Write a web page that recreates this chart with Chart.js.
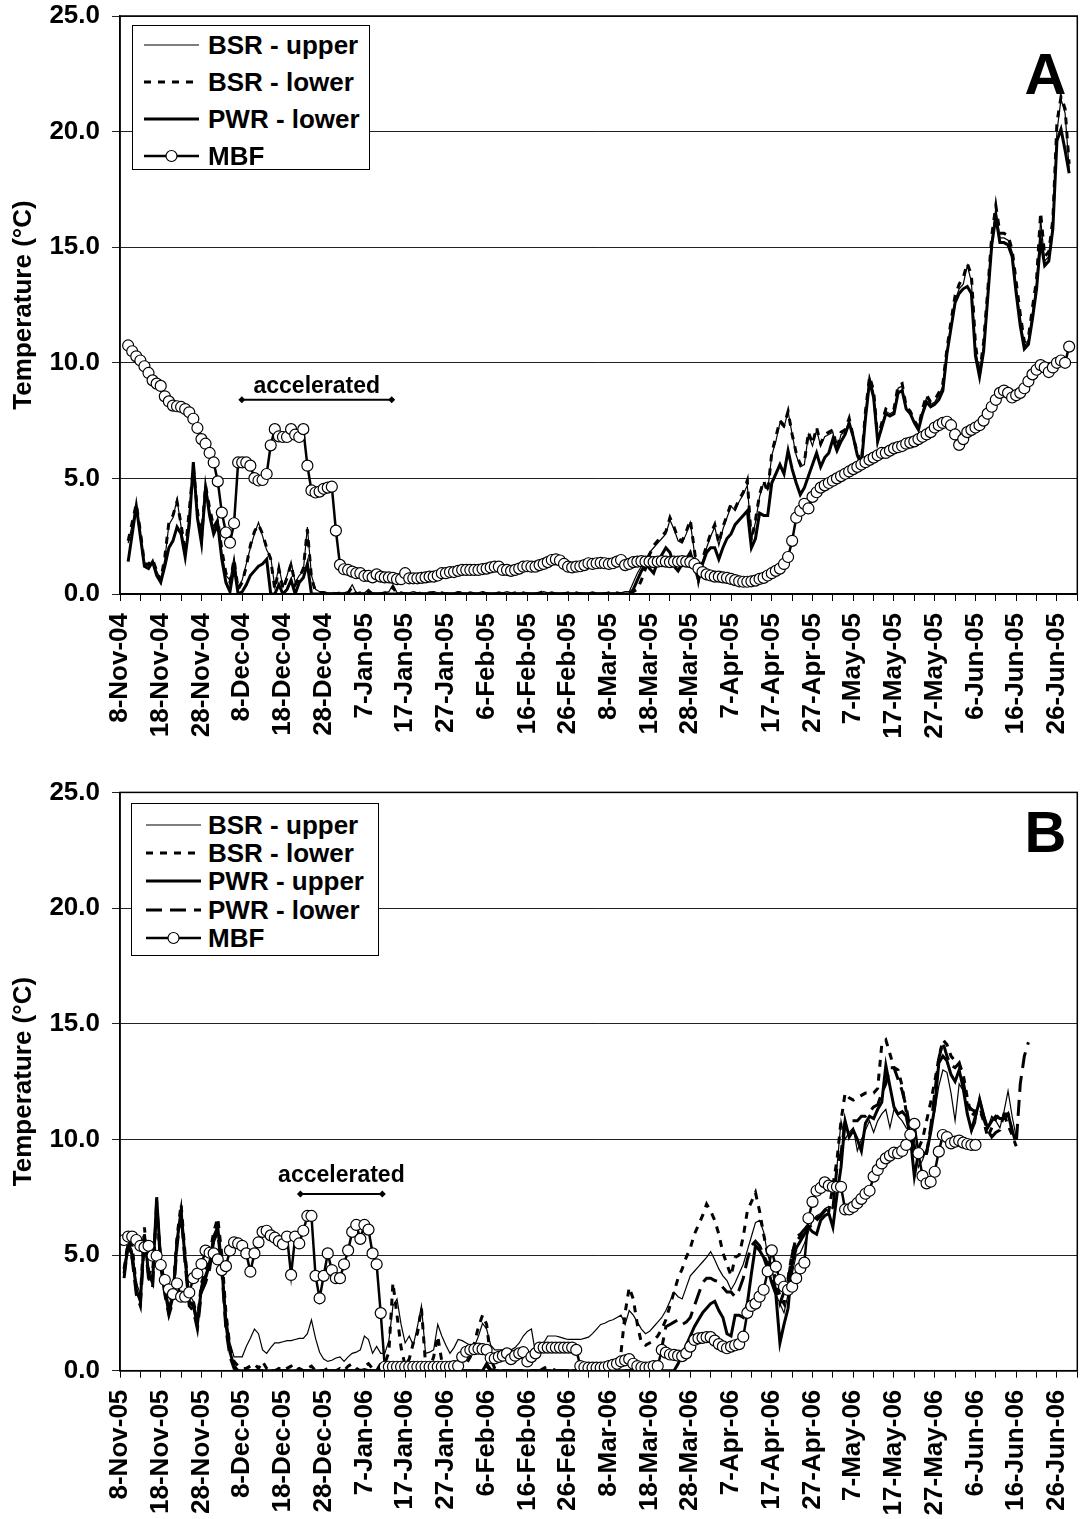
<!DOCTYPE html>
<html>
<head>
<meta charset="utf-8">
<title>Temperature</title>
<script src="https://cdn.jsdelivr.net/npm/chart.js@4.4.1/dist/chart.umd.min.js"></script>
<style>
  body { margin: 0; background: #fff; }
  #page { position: relative; width: 1084px; height: 1519px; }
  .panel { position: absolute; left: 0; width: 1084px; }
  .legend { position: absolute; border: 1px solid #000; background: #fff; box-sizing: border-box; }
  .legend .row { position: absolute; height: 28px; display: flex; align-items: center;
    font: bold 26px 'Liberation Sans', Arial, sans-serif; line-height: 28px; white-space: nowrap; color: #000; }
</style>
</head>
<body>
<div id="page">
  <div class="panel" style="top:0;height:760px"><canvas id="chartA"></canvas></div>
  <div class="panel" style="top:760px;height:759px"><canvas id="chartB"></canvas></div>
  <div class="legend" id="legendA" style="left:132px;top:25px;width:238px;height:145px"></div>
  <div class="legend" id="legendB" style="left:131px;top:803px;width:248px;height:153px"></div>
</div>
<script>
// tick labels, one every 10 days (day 0 = first label)
const tickLabelsA = ["8-Nov-04", "18-Nov-04", "28-Nov-04", "8-Dec-04", "18-Dec-04", "28-Dec-04",
  "7-Jan-05", "17-Jan-05", "27-Jan-05", "6-Feb-05", "16-Feb-05", "26-Feb-05", "8-Mar-05",
  "18-Mar-05", "28-Mar-05", "7-Apr-05", "17-Apr-05", "27-Apr-05", "7-May-05", "17-May-05",
  "27-May-05", "6-Jun-05", "16-Jun-05", "26-Jun-05"];
const tickLabelsB = ["8-Nov-05", "18-Nov-05", "28-Nov-05", "8-Dec-05", "18-Dec-05", "28-Dec-05",
  "7-Jan-06", "17-Jan-06", "27-Jan-06", "6-Feb-06", "16-Feb-06", "26-Feb-06", "8-Mar-06",
  "18-Mar-06", "28-Mar-06", "7-Apr-06", "17-Apr-06", "27-Apr-06", "7-May-06", "17-May-06",
  "27-May-06", "6-Jun-06", "16-Jun-06", "26-Jun-06"];

// ---- panel A, daily values from 8-Nov-04 (index = day) ----
const bsrUpA = [null, null, 2.2, 3.0, 3.9, 2.6, 1.3, 1.2, 1.4, 1.0,
  0.6, 1.5, 3.0, 3.3, 4.1, 2.9, 1.7, 3.5, 5.6, 3.5,
  2.3, 4.8, 3.6, 2.8, 3.3, 1.8, 0.8, 0.6, 1.6, 0.3,
  0.6, 1.3, 2.0, 2.6, 3.1, 2.5, 1.9, 1.6, 0.3, 1.2,
  0.3, 0.8, 1.4, 0.5, 0.8, 1.0, 2.9, 0.8, 0.2, 0.1,
  0.1, 0.05, 0.05, 0.05, 0.05, 0.05, 0.1, 0.4, 0.05, 0.05,
  0.05, 0.2, 0.05, 0.05, 0.05, 0.05, 0.1, 0.4, 0.05, 0.05,
  0.05, 0.05, 0.1, 0.05, 0.05, 0.05, 0.05, 0.1, 0.05, 0.05,
  0.05, 0.05, 0.05, 0.1, 0.05, 0.05, 0.05, 0.05, 0.05, 0.1,
  0.05, 0.05, 0.05, 0.05, 0.05, 0.1, 0.05, 0.05, 0.05, 0.05,
  0.05, 0.05, 0.05, 0.05, 0.1, 0.05, 0.05, 0.05, 0.05, 0.05,
  0.05, 0.05, 0.05, 0.05, 0.05, 0.05, 0.05, 0.05, 0.05, 0.05,
  0.05, 0.05, 0.05, 0.05, 0.1, 0.1, 0.5, 0.9, 1.2, 1.5,
  1.8, 2.0, 2.2, 2.4, 2.6, 3.2, 2.8, 2.3, 2.2, 2.6,
  3.1, 1.8, 0.6, 1.4, 2.0, 2.5, 2.9, 2.1, 2.8, 3.3,
  3.8, 3.6, 4.0, 4.3, 4.7, 2.4, 3.1, 4.2, 4.8, 4.5,
  6.0, 6.6, 7.4, 7.2, 7.9, 6.9, 6.0, 5.5, 5.6, 6.9,
  6.4, 7.1, 6.4, 6.8, 6.9, 7.0, 6.2, 6.9, 7.0, 7.5,
  6.7, 6.0, 5.6, 7.8, 9.4, 8.7, 6.6, 7.3, 7.9, 7.8,
  7.9, 8.9, 9.0, 8.0, 7.8, 7.4, 7.1, 7.9, 8.5, 8.2,
  8.3, 8.6, 9.0, 10.5, 11.6, 12.7, 13.2, 13.4, 14.2, 13.5,
  10.6, 9.6, 10.7, 13.0, 15.3, 16.7, 15.4, 15.4, 15.3, 14.8,
  13.3, 12.0, 10.7, 11.0, 12.2, 13.4, 16.2, 14.4, 14.6, 16.0,
  20.0, 21.4, 20.8, 18.4, null, null];

const bsrLowA = [null, null, 2.3, 3.1, 3.9, 2.7, 1.3, 1.3, 1.5, 1.0,
  0.6, 1.6, 3.1, 3.4, 4.0, 3.0, 1.8, 3.6, 5.5, 3.6,
  2.4, 4.7, 3.7, 2.9, 3.2, 1.9, 0.9, 0.5, 1.5, 0.2,
  0.5, 1.2, 2.1, 2.7, 3.0, 2.6, 2.0, 1.5, 0.2, 1.1,
  0.2, 0.7, 1.3, 0.4, 0.7, 1.1, 2.8, 0.7, 0.1, 0.05,
  0.05, 0.0, 0.05, 0.0, 0.05, 0.0, 0.05, 0.3, 0.0, 0.05,
  0.0, 0.1, 0.0, 0.05, 0.0, 0.05, 0.05, 0.3, 0.0, 0.05,
  0.0, 0.05, 0.05, 0.0, 0.05, 0.0, 0.05, 0.05, 0.0, 0.05,
  0.0, 0.05, 0.0, 0.05, 0.05, 0.0, 0.05, 0.0, 0.05, 0.05,
  0.0, 0.05, 0.0, 0.05, 0.0, 0.05, 0.0, 0.05, 0.0, 0.05,
  0.0, 0.05, 0.0, 0.05, 0.1, 0.0, 0.05, 0.0, 0.05, 0.0,
  0.05, 0.0, 0.05, 0.0, 0.05, 0.0, 0.05, 0.0, 0.05, 0.0,
  0.05, 0.0, 0.05, 0.0, 0.05, 0.05, 0.1, 0.2, 0.6, 1.1,
  1.7, 2.1, 2.3, 2.5, 2.7, 3.3, 2.9, 2.4, 2.3, 2.7,
  3.2, 1.9, 0.6, 1.5, 2.1, 2.6, 3.0, 2.2, 2.9, 3.4,
  3.9, 3.7, 4.1, 4.4, 4.9, 2.3, 3.2, 4.3, 4.9, 4.4,
  6.1, 6.8, 7.5, 7.3, 7.9, 6.9, 6.1, 5.6, 5.7, 7.0,
  6.5, 7.2, 6.5, 6.9, 7.0, 7.1, 6.3, 7.0, 7.1, 7.6,
  6.8, 6.1, 5.7, 7.9, 9.4, 8.8, 6.7, 7.4, 8.0, 7.9,
  8.0, 9.0, 9.1, 8.1, 7.9, 7.5, 7.2, 8.0, 8.6, 8.3,
  8.4, 8.7, 9.1, 10.6, 11.8, 12.9, 13.4, 13.7, 14.3, 13.8,
  10.8, 9.5, 10.9, 13.1, 15.5, 16.8, 15.6, 15.6, 15.5, 14.9,
  13.5, 12.1, 10.9, 11.1, 12.4, 13.6, 16.5, 14.6, 14.8, 16.2,
  20.4, 21.5, 21.0, 18.6, null, null];

const pwrLowA = [null, null, 1.4, 2.6, 3.8, 2.5, 1.2, 1.1, 1.4, 0.8,
  0.5, 1.2, 2.0, 2.3, 2.9, 2.6, 1.6, 3.0, 5.7, 3.3,
  2.2, 4.6, 3.4, 2.6, 3.0, 1.5, 0.5, 0.1, 1.2, 0.0,
  0.1, 0.4, 0.8, 1.0, 1.2, 1.3, 1.5, 0.0, 0.0, 0.4,
  0.0, 0.2, 0.6, 0.0, 0.5, 0.7, 1.3, 0.0, 0.0, 0.0,
  0, 0, 0, 0, 0, 0, 0, 0, 0, 0,
  0, 0, 0, 0, 0, 0, 0, 0, 0, 0,
  0, 0, 0, 0, 0, 0, 0, 0, 0, 0,
  0, 0, 0, 0, 0, 0, 0, 0, 0, 0,
  0, 0, 0, 0, 0, 0, 0, 0, 0, 0,
  0, 0, 0, 0, 0, 0, 0, 0, 0, 0,
  0, 0, 0, 0, 0, 0, 0, 0, 0, 0,
  0, 0, 0, 0, 0, 0.0, 0.2, 0.6, 1.0, 1.3,
  1.1, 0.9, 1.4, 1.7, 2.0, 1.8, 1.2, 1.0, 1.3, 1.5,
  1.8, 1.2, 0.6, 1.3, 1.8, 2.0, 2.0, 1.5, 2.0, 2.4,
  2.6, 3.0, 3.2, 3.4, 3.6, 2.0, 2.4, 3.5, 3.4, 3.4,
  4.8, 5.2, 5.6, 5.2, 6.2, 5.4, 4.8, 4.3, 4.6, 5.1,
  5.6, 6.1, 5.5, 5.9, 6.1, 6.7, 6.2, 6.6, 6.9, 7.4,
  6.8, 6.0, 5.6, 7.6, 9.2, 8.5, 6.6, 7.2, 7.8, 7.7,
  7.8, 8.7, 8.8, 8.0, 7.8, 7.4, 7.1, 7.8, 8.3, 8.1,
  8.2, 8.4, 8.8, 10.4, 11.5, 12.6, 13.0, 13.2, 13.3, 13.0,
  10.3, 9.4, 10.5, 12.8, 15.1, 16.3, 15.2, 15.2, 15.1, 14.6,
  13.0, 11.6, 10.6, 10.8, 11.9, 13.2, 15.3, 14.2, 14.4, 15.8,
  19.6, 20.1, 19.2, 18.2, null, null];

const mbfA = [null, null, 10.75, 10.5, 10.28, 10.1, 9.85, 9.56, 9.24, 9.1,
  9.0, 8.55, 8.33, 8.15, 8.12, 8.09, 8.0, 7.86, 7.58, 7.18,
  6.7, 6.5, 6.1, 5.69, 4.87, 3.52, 2.66, 2.22, 3.06, 5.69,
  5.69, 5.69, 5.55, 5.01, 4.91, 4.93, 5.19, 6.43, 7.13, 6.82,
  6.79, 6.79, 7.13, 6.89, 6.79, 7.13, 5.55, 4.48, 4.39, 4.43,
  4.55, 4.6, 4.64, 2.74, 1.26, 1.07, 1.04, 0.97, 0.9, 0.9,
  0.78, 0.78, 0.72, 0.85, 0.75, 0.72, 0.72, 0.7, 0.64, 0.64,
  0.9, 0.68, 0.68, 0.68, 0.7, 0.72, 0.75, 0.75, 0.8, 0.9,
  0.9, 0.95, 0.95, 1.0, 1.04, 1.04, 1.04, 1.04, 1.04, 1.08,
  1.1, 1.15, 1.18, 1.18, 1.04, 1.04, 1.0, 1.04, 1.1, 1.18,
  1.2, 1.18, 1.18, 1.25, 1.3, 1.38, 1.47, 1.5, 1.45, 1.3,
  1.18, 1.15, 1.18, 1.2, 1.25, 1.33, 1.3, 1.33, 1.35, 1.33,
  1.3, 1.33, 1.4, 1.47, 1.25, 1.3, 1.38, 1.4, 1.42, 1.4,
  1.4, 1.38, 1.4, 1.42, 1.4, 1.38, 1.4, 1.4, 1.42, 1.4,
  1.38, 1.3, 1.1, 0.95, 0.85, 0.8, 0.75, 0.75, 0.72, 0.7,
  0.65, 0.6, 0.55, 0.53, 0.53, 0.55, 0.58, 0.65, 0.7, 0.8,
  0.9, 1.0, 1.1, 1.3, 1.6, 2.3, 3.3, 3.6, 3.9, 3.7,
  4.2, 4.4, 4.6, 4.7, 4.8, 4.9, 5.0, 5.1, 5.2, 5.3,
  5.4, 5.5, 5.6, 5.7, 5.8, 5.9, 6.0, 6.1, 6.1, 6.2,
  6.3, 6.35, 6.4, 6.5, 6.55, 6.6, 6.7, 6.8, 6.9, 7.0,
  7.2, 7.3, 7.4, 7.45, 7.3, 6.9, 6.45, 6.7, 7.0, 7.1,
  7.2, 7.3, 7.5, 7.8, 8.1, 8.4, 8.7, 8.8, 8.7, 8.5,
  8.6, 8.7, 8.9, 9.2, 9.5, 9.7, 9.9, 9.8, 9.6, 9.8,
  10.0, 10.1, 10.0, 10.7, null, null];

// ---- panel B, daily values from 8-Nov-05 ----
const bsrUpB = [null, 4.5, 5.6, 5.2, 3.8, 3.3, 5.8, 4.4, 4.0, 7.3,
  5.0, 3.8, 2.8, 3.4, 5.5, 6.7, 5.0, 3.3, 3.0, 2.3,
  3.8, 4.2, 4.8, 5.6, 6.0, 4.7, 2.5, 1.2, 0.6, 0.6,
  0.6, 1.05, 1.4, 1.8, 1.6, 0.9, 0.75, 1.0, 1.2, 1.2,
  1.25, 1.3, 1.3, 1.35, 1.4, 1.4, 1.6, 2.2, 1.4, 0.8,
  0.5, 0.4, 0.45, 0.55, 0.6, 0.4, 0.6, 0.75, 0.8, 0.9,
  1.5, 1.35, 0.75, 1.05, 0.75, 0.75, 1.3, 2.8, 3.1, 2.0,
  1.2, 1.5, 1.1, 1.9, 2.8, 0.75, 0.8, 0.9, 2.0, 1.5,
  1.1, 0.75, 1.0, 1.35, 1.3, 1.2, 1.1, 1.05, 1.5, 2.05,
  1.8, 1.1, 0.9, 0.9, 0.9, 0.9, 0.9, 1.0, 1.2, 1.5,
  1.7, 1.8, 0.75, 1.0, 1.2, 1.5, 1.5, 1.5, 1.45, 1.4,
  1.35, 1.35, 1.35, 1.35, 1.4, 1.45, 1.6, 1.8, 2.0, 2.05,
  2.15, 2.2, 2.3, 2.4, 2.0, 2.6, 2.4, 2.1, 1.8, 1.6,
  1.7, 1.9, 2.1, 2.3, 2.6, 3.0, 3.4, 3.2, 3.1, 3.6,
  4.1, 4.3, 4.5, 4.7, 4.9, 5.15, 4.8, 4.4, 4.1, 3.9,
  3.5, 3.8, 4.2, 4.6, 5.2, 5.8, 6.4, 6.5, 6.0, 5.0,
  4.5, 3.3, 2.9, 2.5, 3.3, 4.2, 5.0, 5.1, 5.5, 6.0,
  6.5, 6.7, 6.8, 7.0, 7.1, 7.0, 8.8, 10.8, 10.0, 10.3,
  10.5, 9.5, 10.0, 10.4, 10.8, 10.3, 10.8, 11.1, 11.3, 10.5,
  11.3, 11.0, 10.8, 10.5, 10.3, 10.0, 8.8, 9.1, 9.6, 10.4,
  11.2, 12.3, 13.0, 12.9, 12.0, 10.8, 12.4, 12.1, 11.2, 10.3,
  10.7, 11.9, 11.2, 10.5, 11.0, 10.8, 10.5, 11.2, 12.1, 11.0,
  10.1, null, null, null, null, null, null, null, null, null,
  null, null, null, null, null, null];

const bsrLowB = [null, 4.4, 5.6, 5.4, 3.6, 3.2, 6.2, 4.3, 4.2, 7.0,
  4.8, 3.5, 2.7, 3.4, 5.8, 7.2, 5.0, 3.2, 3.0, 2.2,
  3.8, 4.3, 5.0, 6.0, 6.6, 5.0, 2.5, 1.0, 0.4, 0.2,
  0.1, 0.1, 0.2, 0.3, 0.1, 0.4, 0.1, 0.0, 0.0, 0.1,
  0.0, 0.1, 0.2, 0.0, 0.1, 0.0, 0.1, 0.2, 0.0, 0.0,
  0.0, 0.1, 0.0, 0.0, 0.1, 0.0, 0.2, 0.3, 0.1, 0.0,
  0.2, 0.3, 0.1, 0.0, 0.3, 0.3, 0.8, 3.8, 2.4, 1.0,
  0.2, 0.5, 1.2, 1.6, 2.7, 0.3, 0.1, 0.6, 1.5, 0.4,
  0.1, 0.0, 0.1, 0.2, 0.2, 0.3, 0.6, 1.2, 1.9, 2.4,
  2.0, 0.5, 0.1, 0.0, 0.0, 0.0, 0.0, 0.0, 0.0, 0.0,
  0.0, 0.0, 0.0, 0.0, 0.0, 0.0, 0.0, 0.0, 0.0, 0.0,
  0.0, 0.0, 0.0, 0.0, 0.0, 0.05, 0.05, 0.1, 0.1, 0.2,
  0.3, 0.4, 0.5, 0.8, 2.5, 3.6, 3.1, 2.0, 1.2, 1.1,
  1.2, 1.3, 1.5, 1.8, 2.2, 2.8, 3.4, 4.0, 4.4, 4.9,
  5.3, 5.9, 6.3, 6.7, 7.2, 6.9, 6.5, 5.9, 5.1, 4.6,
  4.1, 4.9, 5.0, 5.8, 6.9, 7.3, 7.7, 6.9, 5.9, 5.0,
  4.4, 4.0, 3.2, 2.9, 4.0, 5.1, 5.6, 5.8, 6.2, 6.2,
  6.3, 6.5, 6.7, 6.8, 6.9, 8.0, 9.1, 10.8, 12.0, 11.8,
  11.7, 11.8, 11.9, 12.0, 12.0, 12.0, 12.2, 14.1, 14.3, 13.7,
  13.1, 13.0, 12.3, 11.2, 10.2, 9.4, 9.6, 10.0, 10.8, 11.6,
  12.5, 13.5, 14.3, 14.1, 13.6, 13.4, 13.3, 12.8, 11.8, 11.0,
  11.2, 11.3, 10.8, 10.1, 10.5, 10.9, 11.1, 11.1, 10.6, 10.2,
  9.7, null, null, null, null, null, null, null, null, null,
  null, null, null, null, null, null];

const pwrUpB = [null, 4.2, 5.4, 5.0, 3.5, 3.0, 5.9, 4.2, 3.8, 7.5,
  4.7, 3.5, 2.5, 3.2, 5.6, 6.9, 4.8, 3.0, 2.8, 2.0,
  3.6, 4.0, 4.6, 5.8, 6.2, 4.5, 2.0, 0.8, 0.2, 0.0,
  0, 0, 0, 0, 0, 0, 0, 0, 0, 0,
  0, 0, 0, 0, 0, 0, 0, 0, 0, 0,
  0, 0, 0, 0, 0, 0, 0, 0, 0, 0,
  0.05, 0, 0, 0, 0, 0, 0, 0.1, 0, 0,
  0, 0, 0, 0, 0.1, 0, 0, 0, 0, 0,
  0, 0, 0, 0, 0, 0, 0, 0, 0, 0,
  0.3, 0.05, 0, 0, 0, 0, 0, 0, 0, 0,
  0, 0, 0, 0, 0, 0, 0, 0, 0, 0,
  0, 0, 0, 0, 0, 0, 0, 0, 0, 0,
  0, 0, 0, 0, 0, 0, 0, 0, 0, 0,
  0, 0, 0, 0, 0, 0, 0.0, 0.3, 0.7, 1.1,
  1.5, 1.9, 2.2, 2.5, 2.7, 2.9, 3.0, 2.6, 2.3, 1.6,
  1.5, 2.4, 2.4, 2.3, 2.9, 4.2, 5.4, 5.2, 4.9, 4.4,
  3.8, 3.3, 1.2, 2.0, 2.7, 4.6, 5.3, 5.6, 5.9, 6.2,
  6.0, 5.9, 6.5, 6.7, 6.8, 6.2, 7.6, 8.8, 10.8, 10.1,
  10.4, 10.0, 9.5, 10.7, 11.0, 10.9, 11.3, 11.6, 13.2, 12.3,
  11.4, 11.1, 11.2, 11.0, 10.1, 8.4, 9.4, 9.4, 9.4, 10.3,
  11.4, 13.3, 13.6, 13.4, 12.8, 12.5, 13.0, 12.2, 11.1, 10.4,
  11.0, 11.7, 11.0, 10.5, 10.8, 11.0, 10.9, 10.9, 11.1, 10.4,
  null, null, null, null, null, null, null, null, null, null,
  null, null, null, null, null, null];

const pwrLowB = [null, 4.0, 5.5, 4.8, 3.3, 2.8, 5.7, 4.0, 3.6, 7.3,
  4.5, 3.3, 2.4, 3.0, 5.4, 6.8, 4.6, 2.8, 2.6, 1.8,
  3.4, 3.8, 4.4, 5.6, 6.0, 4.3, 1.8, 0.6, 0.1, 0.0,
  0, 0, 0, 0, 0, 0, 0, 0, 0, 0,
  0, 0, 0, 0, 0, 0, 0, 0, 0, 0,
  0, 0, 0, 0, 0, 0, 0, 0, 0, 0,
  0, 0, 0, 0, 0, 0, 0, 0, 0, 0,
  0, 0, 0, 0, 0, 0, 0, 0, 0, 0,
  0, 0, 0, 0, 0, 0, 0, 0, 0, 0,
  0.2, 0, 0, 0, 0, 0, 0, 0, 0, 0,
  0, 0, 0, 0, 0.1, 0.2, 0.1, 0, 0, 0,
  0, 0, 0, 0, 0, 0, 0, 0, 0, 0,
  0, 0, 0, 0, 0, 0, 0, 0, 0, 0,
  0, 0, 0.3, 1.0, 1.9, 2.0, 2.1, 2.2, 2.0, 2.1,
  2.3, 2.8, 3.3, 3.8, 4.0, 4.0, 3.9, 3.85, 3.6, 3.4,
  3.4, 3.2, 3.5, 4.0, 4.8, 5.4, 5.6, 5.4, 5.0, 4.6,
  4.1, 3.5, 2.9, 3.4, 3.9, 5.0, 5.8, 5.9, 6.1, 6.3,
  6.4, 6.6, 6.7, 6.9, 7.1, 7.0, 8.8, 9.4, 10.8, 10.8,
  10.8, 10.8, 11.0, 11.0, 11.2, 11.4, 11.5, 12.0, 12.4, 13.1,
  13.1, 12.6, 12.1, 11.4, 10.4, 9.6, 9.4, 9.4, 9.4, 10.5,
  12.0, 13.5, 14.2, 13.6, 13.2, 13.1, 13.3, 12.5, 11.5, 11.3,
  11.2, 11.4, 10.9, 10.4, 10.1, 10.3, 10.4, 11.1, 11.1, 10.4,
  9.8, 12.4, 13.6, 14.2, null, null, null, null, null, null,
  null, null, null, null, null, null];

const mbfB = [null, 5.65, 5.8, 5.8, 5.65, 5.4, 5.33, 5.4, 4.97, 4.97,
  4.57, 3.92, 3.52, 3.31, 3.77, 3.2, 3.2, 3.38, 4.0, 4.2,
  4.61, 5.19, 5.1, 5.07, 4.81, 4.35, 4.52, 5.2, 5.55, 5.5,
  5.4, 5.07, 4.28, 5.07, 5.55, 6.0, 6.05, 5.85, 5.75, 5.6,
  5.47, 5.8, 4.14, 5.8, 5.5, 6.05, 6.69, 6.69, 4.1, 3.13,
  4.1, 5.07, 4.35, 4.0, 4.0, 4.6, 5.2, 6.0, 6.3, 5.7,
  6.3, 6.1, 5.07, 4.6, 2.49, 0.17, 0.17, 0.17, 0.17, 0.17,
  0.17, 0.17, 0.17, 0.17, 0.17, 0.17, 0.17, 0.17, 0.17, 0.17,
  0.17, 0.17, 0.2, 0.2, 0.6, 0.82, 0.9, 0.93, 0.95, 0.93,
  0.9, 0.55, 0.53, 0.6, 0.65, 0.75, 0.5, 0.65, 0.75, 0.8,
  0.4, 0.6, 0.75, 1.0, 1.0, 1.0, 1.0, 1.0, 1.0, 1.0,
  1.0, 1.0, 0.9, 0.2, 0.15, 0.13, 0.13, 0.13, 0.13, 0.15,
  0.2, 0.25, 0.3, 0.4, 0.45, 0.5, 0.3, 0.2, 0.15, 0.13,
  0.15, 0.2, 0.2, 0.9, 0.78, 0.7, 0.68, 0.65, 0.63, 0.75,
  1.04, 1.33, 1.4, 1.42, 1.45, 1.45, 1.3, 1.15, 1.05, 0.97,
  1.04, 1.1, 1.15, 1.47, 2.5, 2.8, 2.9, 3.2, 3.5, 4.3,
  5.2, 4.5, 3.92, 3.63, 3.49, 3.63, 4.0, 4.42, 4.67, 6.59,
  7.3, 7.78, 7.9, 8.14, 8.0, 7.95, 7.95, 7.95, 6.97, 6.97,
  7.08, 7.24, 7.43, 7.65, 7.78, 8.39, 8.68, 8.96, 9.18, 9.3,
  9.43, 9.4, 9.5, 9.76, 10.2, 10.67, 9.4, 8.42, 8.1, 8.17,
  8.6, 9.47, 10.19, 10.1, 9.83, 9.9, 9.95, 9.86, 9.8, 9.76,
  9.76, null, null, null, null, null, null, null, null, null,
  null, null, null, null, null, null, null, null, null, null,
  null, null, null, null, null, null];

const FONT = "'Liberation Sans', Arial, Helvetica, sans-serif";
Chart.defaults.font.family = FONT;
Chart.defaults.color = '#000';

// x = day number, y = temperature
function toPoints(arr) {
  return arr.map((v, i) => ({ x: i, y: v }));
}

function lineSeries(label, data, width, dash, order) {
  return {
    label: label,
    data: toPoints(data),
    borderColor: '#000',
    backgroundColor: '#000',
    borderWidth: width,
    borderDash: dash,
    pointRadius: 0,
    tension: 0,
    order: order
  };
}

function mbfSeries(data) {
  return {
    label: 'MBF',
    data: toPoints(data),
    borderColor: '#000',
    borderWidth: 2.5,
    pointRadius: 5.5,
    pointStyle: 'circle',
    pointBackgroundColor: '#fff',
    pointBorderColor: '#000',
    pointBorderWidth: 1.2,
    tension: 0,
    order: 0
  };
}

// frame, panel letter and the "accelerated" marker
const panelDecor = {
  id: 'panelDecor',
  afterDraw(chart, args, opts) {
    const ctx = chart.ctx;
    const a = chart.chartArea;
    const x = chart.scales.x;
    const y = chart.scales.y;
    ctx.save();
    ctx.strokeStyle = '#000';
    ctx.lineWidth = 1.5;
    ctx.strokeRect(a.left, a.top, a.right - a.left, a.bottom - a.top);

    ctx.fillStyle = '#000';
    ctx.font = 'bold 58px ' + FONT;
    ctx.textAlign = 'right';
    ctx.textBaseline = 'alphabetic';
    ctx.fillText(opts.letter, a.right - 11, a.top + opts.letterBase);

    const x1 = x.getPixelForValue(opts.accelFrom);
    const x2 = x.getPixelForValue(opts.accelTo);
    const yb = y.getPixelForValue(opts.accelAt);
    ctx.lineWidth = 2;
    ctx.beginPath();
    ctx.moveTo(x1, yb);
    ctx.lineTo(x2, yb);
    ctx.stroke();
    [x1, x2].forEach(function (px) {
      ctx.beginPath();
      ctx.moveTo(px - 3.5, yb);
      ctx.lineTo(px, yb - 3.5);
      ctx.lineTo(px + 3.5, yb);
      ctx.lineTo(px, yb + 3.5);
      ctx.closePath();
      ctx.fill();
    });
    ctx.font = 'bold 23px ' + FONT;
    ctx.textAlign = 'center';
    ctx.fillText('accelerated', (x1 + x2) / 2, y.getPixelForValue(opts.textAt));
    ctx.restore();
  }
};

function makeChart(id, tickLabels, datasets, decor, padTop, axisHeight) {
  return new Chart(document.getElementById(id), {
    type: 'line',
    data: { datasets: datasets },
    options: {
      responsive: true,
      maintainAspectRatio: false,
      animation: false,
      devicePixelRatio: 1,
      events: [],
      layout: { padding: { top: padTop, right: 1, left: 0, bottom: 0 } },
      plugins: {
        legend: { display: false },
        tooltip: { enabled: false },
        panelDecor: decor
      },
      scales: {
        x: {
          type: 'linear',
          min: 0,
          max: 235,
          ticks: {
            stepSize: 5,
            autoSkip: false,
            minRotation: 90,
            maxRotation: 90,
            padding: 12,
            color: '#000',
            font: { size: 26, weight: 'bold' },
            callback: function (v) {
              return v % 10 === 0 ? tickLabels[v / 10] : '';
            }
          },
          grid: { drawOnChartArea: false, color: '#000', lineWidth: 1, tickLength: 7 },
          border: { color: '#000', width: 1.5 },
          afterFit: function (s) {
            s.height = axisHeight;
            s.paddingLeft = 0;
            s.paddingRight = 0;
          }
        },
        y: {
          min: 0,
          max: 25,
          ticks: {
            stepSize: 5,
            padding: 12,
            color: '#000',
            font: { size: 26, weight: 'bold' },
            callback: function (v) { return v.toFixed(1); }
          },
          grid: { color: '#222', lineWidth: 1, tickLength: 8 },
          border: { color: '#000', width: 1.5 },
          title: {
            display: true,
            text: 'Temperature (°C)',
            color: '#000',
            font: { size: 26, weight: 'bold', lineHeight: 1.2 },
            padding: { top: 8, bottom: 0 }
          },
          afterFit: function (s) {
            s.width = 120;
            s.paddingTop = 0;
            s.paddingBottom = 0;
          }
        }
      }
    },
    plugins: [panelDecor]
  });
}

function buildLegend(boxId, datasets, firstRow, rowGap, sampleLeft, textGap) {
  const box = document.getElementById(boxId);
  datasets.forEach(function (ds, i) {
    const row = document.createElement('div');
    row.className = 'row';
    row.style.left = sampleLeft + 'px';
    row.style.top = (firstRow + i * rowGap - 14) + 'px';
    const dash = ds.borderDash && ds.borderDash.length ? ' stroke-dasharray="' + ds.borderDash.join(' ') + '"' : '';
    let svg = '<svg width="55" height="14" style="margin-right:' + textGap + 'px;flex:none">' +
      '<line x1="0" y1="7" x2="55" y2="7" stroke="#000" stroke-width="' + ds.borderWidth + '"' + dash + '/>';
    if (ds.pointRadius) {
      svg += '<circle cx="27.5" cy="7" r="' + ds.pointRadius + '" fill="#fff" stroke="#000" stroke-width="1.2"/>';
    }
    svg += '</svg>';
    row.innerHTML = svg + '<span>' + ds.label + '</span>';
    box.appendChild(row);
  });
}

// Panel A
const dsA = [
  lineSeries('BSR - upper', bsrUpA, 1.2, [], 3),
  lineSeries('BSR - lower', bsrLowA, 3, [7, 7], 2),
  lineSeries('PWR - lower', pwrLowA, 3, [], 1),
  mbfSeries(mbfA)
];
makeChart('chartA', tickLabelsA, dsA,
  { letter: 'A', letterBase: 78, accelFrom: 29.9, accelTo: 66.7, accelAt: 8.4, textAt: 8.71 },
  16, 166);
buildLegend('legendA', dsA, 18.5, 37.2, 11, 9);

// Panel B
const dsB = [
  lineSeries('BSR - upper', bsrUpB, 1.2, [], 4),
  lineSeries('BSR - lower', bsrLowB, 3, [7, 7], 3),
  lineSeries('PWR - upper', pwrUpB, 3, [], 2),
  lineSeries('PWR - lower', pwrLowB, 3, [16, 8], 1),
  mbfSeries(mbfB)
];
makeChart('chartB', tickLabelsB, dsB,
  { letter: 'B', letterBase: 60, accelFrom: 44.3, accelTo: 64.4, accelAt: 7.64, textAt: 8.17 },
  32.4, 148.3);
buildLegend('legendB', dsB, 20.6, 28.35, 14, 7);
</script>
</body>
</html>
